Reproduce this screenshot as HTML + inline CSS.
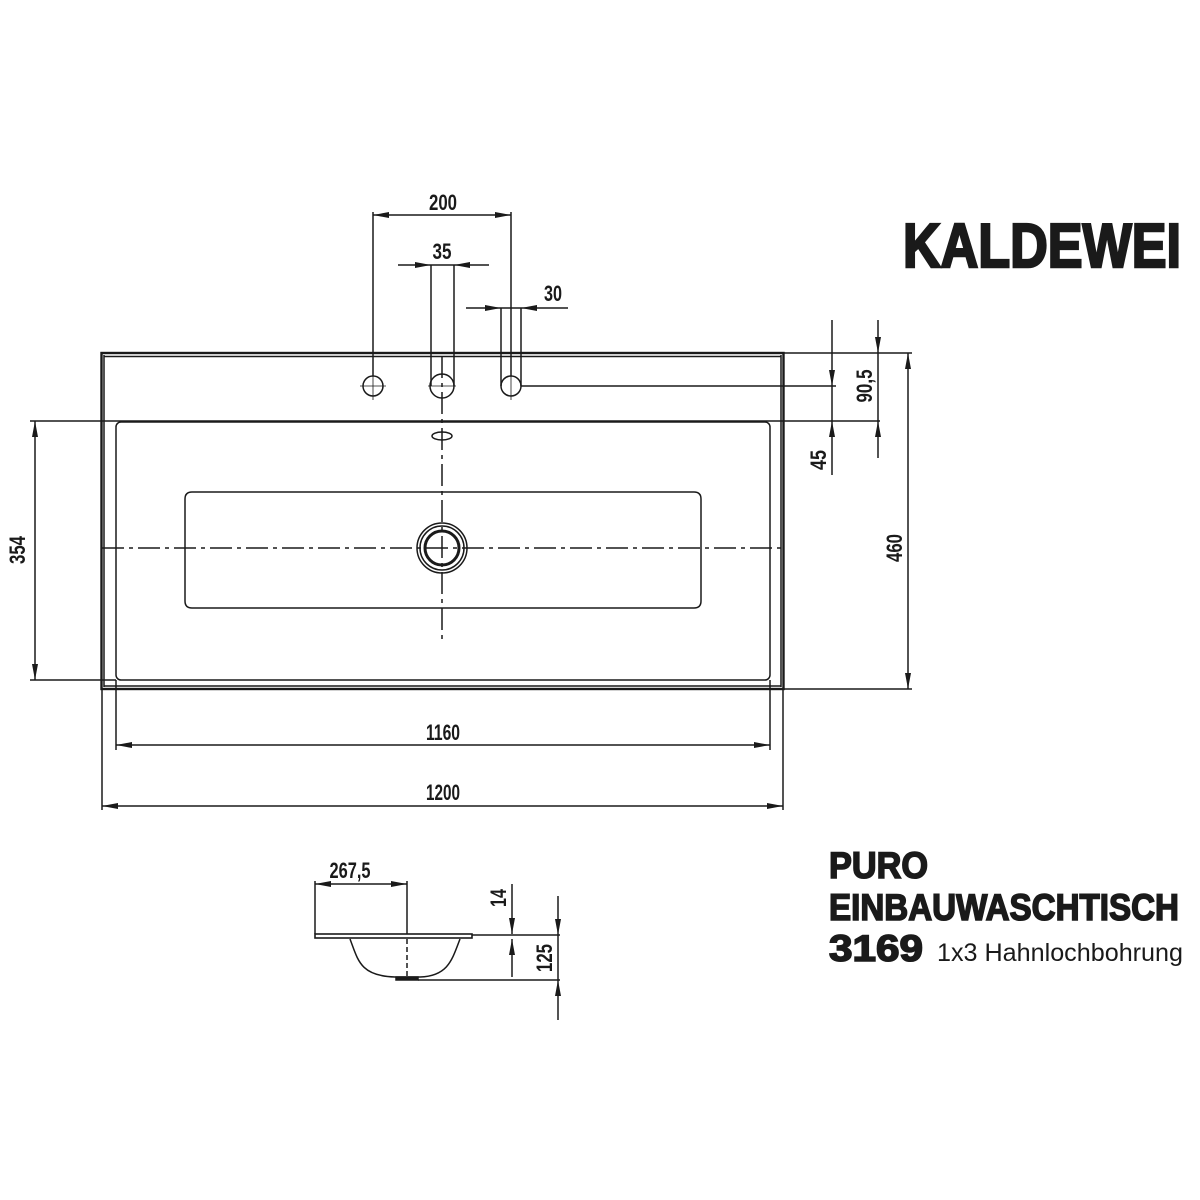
<!DOCTYPE html>
<html><head><meta charset="utf-8"><style>
html,body{margin:0;padding:0;background:#fff}
svg{display:block}
.d{font-family:"Liberation Sans Narrow","Liberation Sans",sans-serif;font-size:22px;font-weight:bold;fill:#1a1a1a}
.b{font-family:"Liberation Sans",sans-serif;font-weight:bold;fill:#1a1a1a;stroke:#1a1a1a;stroke-width:1.6px}
.r{font-family:"Liberation Sans",sans-serif;font-weight:normal;fill:#1a1a1a}
</style></head><body>
<svg width="1200" height="1200" viewBox="0 0 1200 1200" xmlns="http://www.w3.org/2000/svg">
<defs>
<marker id="a" viewBox="0 0 16 6" refX="16" refY="3" markerWidth="16" markerHeight="6" markerUnits="userSpaceOnUse" orient="auto-start-reverse"><path d="M0,0 L16,3 L0,6 z" fill="#1a1a1a"/></marker>
</defs>
<g stroke="#1a1a1a" fill="none" stroke-width="1.5">
<rect x="101.5" y="353" width="682" height="336" stroke-width="2.4"/>
<line x1="104" y1="356.5" x2="781" y2="356.5"/>
<line x1="104" y1="355" x2="104" y2="687"/>
<line x1="781" y1="355" x2="781" y2="687"/>
<line x1="104" y1="686" x2="781" y2="686"/>
<line x1="30" y1="421" x2="880" y2="421"/>
<rect x="116" y="422" width="654" height="258" rx="5"/>
<path d="M192,492 L694,492 Q701,492 701,499 L701,601 Q701,608 694,608 L192,608 Q185,608 185,601 L185,499 Q185,492 192,492 Z"/>
<line x1="102" y1="548" x2="783" y2="548" stroke-dasharray="22,5,4,5"/>
<line x1="442" y1="356" x2="442" y2="640" stroke-dasharray="22,5,4,5"/>
<circle cx="373" cy="386" r="10"/><circle cx="442" cy="386" r="12"/><circle cx="511" cy="386" r="10"/>
<line x1="360" y1="386" x2="386" y2="386" stroke-width="0.8"/><line x1="373" y1="373" x2="373" y2="400" stroke-width="0.8"/>
<line x1="428" y1="386" x2="456" y2="386" stroke-width="0.8"/>
<line x1="511" y1="373" x2="511" y2="400" stroke-width="0.8"/>
<ellipse cx="442" cy="436" rx="10" ry="4"/>
<circle cx="442" cy="548" r="25"/><circle cx="442" cy="548" r="22"/><circle cx="442" cy="548" r="17" stroke-width="3"/>
<line x1="373" y1="212" x2="373" y2="376"/><line x1="511" y1="212" x2="511" y2="376"/>
<line x1="373" y1="215" x2="511" y2="215" marker-start="url(#a)" marker-end="url(#a)"/>
<line x1="431" y1="265" x2="431" y2="386"/><line x1="454" y1="265" x2="454" y2="386"/>
<line x1="398" y1="265" x2="431" y2="265" marker-end="url(#a)"/><line x1="489" y1="265" x2="454" y2="265" marker-end="url(#a)"/>
<line x1="431" y1="265" x2="454" y2="265"/>
<line x1="501" y1="308" x2="501" y2="386"/><line x1="521" y1="308" x2="521" y2="386"/>
<line x1="466" y1="308" x2="501" y2="308" marker-end="url(#a)"/><line x1="568" y1="308" x2="521" y2="308" marker-end="url(#a)"/>
<line x1="501" y1="308" x2="521" y2="308"/>
<line x1="521" y1="386" x2="836" y2="386"/>
<line x1="783" y1="353" x2="912" y2="353"/>
<line x1="783" y1="689" x2="912" y2="689"/>
<line x1="832" y1="320" x2="832" y2="386" marker-end="url(#a)"/>
<line x1="832" y1="475" x2="832" y2="421" marker-end="url(#a)"/>
<line x1="832" y1="386" x2="832" y2="421"/>
<line x1="878" y1="320" x2="878" y2="353" marker-end="url(#a)"/>
<line x1="878" y1="458" x2="878" y2="421" marker-end="url(#a)"/>
<line x1="878" y1="353" x2="878" y2="421"/>
<line x1="908" y1="353" x2="908" y2="689" marker-start="url(#a)" marker-end="url(#a)"/>
<line x1="30" y1="680" x2="116" y2="680"/>
<line x1="35" y1="421" x2="35" y2="680" marker-start="url(#a)" marker-end="url(#a)"/>
<line x1="116" y1="680" x2="116" y2="750"/><line x1="770" y1="680" x2="770" y2="750"/>
<line x1="116" y1="745" x2="770" y2="745" marker-start="url(#a)" marker-end="url(#a)"/>
<line x1="102" y1="689" x2="102" y2="810"/><line x1="783" y1="689" x2="783" y2="810"/>
<line x1="102" y1="806" x2="783" y2="806" marker-start="url(#a)" marker-end="url(#a)"/>
<rect x="315" y="934" width="157" height="4" stroke-width="1.6"/>
<line x1="472" y1="935" x2="560" y2="935"/>
<path d="M350,939 C358,960 360,976 395,977 L420,977 C448,976 452,960 460,939"/>
<rect x="396" y="977" width="22" height="3" fill="#1a1a1a"/>
<line x1="418" y1="980" x2="560" y2="980"/>
<line x1="315" y1="881" x2="315" y2="934"/>
<line x1="407" y1="881" x2="407" y2="934"/>
<line x1="407" y1="939" x2="407" y2="976" stroke-dasharray="5,3"/>
<line x1="315" y1="884" x2="407" y2="884" marker-start="url(#a)" marker-end="url(#a)"/>
<line x1="512" y1="884" x2="512" y2="934" marker-end="url(#a)"/>
<line x1="512" y1="977" x2="512" y2="939" marker-end="url(#a)"/>
<line x1="558" y1="896" x2="558" y2="935" marker-end="url(#a)"/>
<line x1="558" y1="1020" x2="558" y2="980" marker-end="url(#a)"/>
<line x1="558" y1="935" x2="558" y2="980"/>
</g>
<g class="d" text-anchor="middle">
<text x="443" y="210" textLength="28" lengthAdjust="spacingAndGlyphs">200</text>
<text x="442" y="259" textLength="19" lengthAdjust="spacingAndGlyphs">35</text>
<text x="553" y="301" textLength="18" lengthAdjust="spacingAndGlyphs">30</text>
<text x="443" y="740" textLength="34" lengthAdjust="spacingAndGlyphs">1160</text>
<text x="443" y="800" textLength="34" lengthAdjust="spacingAndGlyphs">1200</text>
<text x="350" y="878" textLength="41" lengthAdjust="spacingAndGlyphs">267,5</text>
<text transform="translate(826,460) rotate(-90)" textLength="20" lengthAdjust="spacingAndGlyphs">45</text>
<text transform="translate(872,386) rotate(-90)" textLength="33" lengthAdjust="spacingAndGlyphs">90,5</text>
<text transform="translate(902,548) rotate(-90)" textLength="28" lengthAdjust="spacingAndGlyphs">460</text>
<text transform="translate(25,550) rotate(-90)" textLength="28" lengthAdjust="spacingAndGlyphs">354</text>
<text transform="translate(506,898) rotate(-90)" textLength="18" lengthAdjust="spacingAndGlyphs">14</text>
<text transform="translate(552,958) rotate(-90)" textLength="28" lengthAdjust="spacingAndGlyphs">125</text>
</g>
<text class="b" x="903" y="267" font-size="62" style="stroke-width:2.5px" textLength="278" lengthAdjust="spacingAndGlyphs">KALDEWEI</text>
<text class="b" x="829" y="878" font-size="37" textLength="99" lengthAdjust="spacingAndGlyphs">PURO</text>
<text class="b" x="829" y="920" font-size="37" textLength="350" lengthAdjust="spacingAndGlyphs">EINBAUWASCHTISCH</text>
<text class="b" x="829" y="961" font-size="37" textLength="94" lengthAdjust="spacingAndGlyphs">3169</text>
<text class="r" x="937" y="961" font-size="25" textLength="246" lengthAdjust="spacingAndGlyphs">1x3 Hahnlochbohrung</text>
</svg>
</body></html>
